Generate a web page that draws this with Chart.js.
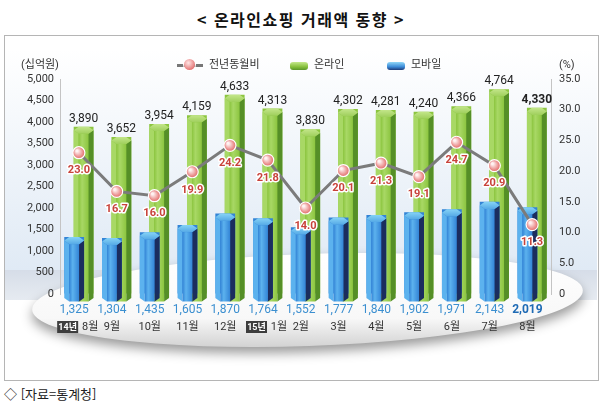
<!DOCTYPE html>
<html lang="ko">
<head>
<meta charset="utf-8">
<script src="https://cdn.jsdelivr.net/npm/chart.js@4.4.1/dist/chart.umd.min.js"></script>
<style>
  html, body { margin: 0; padding: 0; background: #fff; }
  body { width: 602px; height: 404px; position: relative; overflow: hidden;
         font-family: Roboto, "Noto Sans CJK KR", sans-serif; color: #333; }
  .title { position: absolute; left: 0; top: 7px; width: 602px; text-align: center;
           font: bold 16px "Noto Sans CJK KR", sans-serif; letter-spacing: 1.5px; color: #111; }
  .frame { position: absolute; left: 4px; top: 35px; width: 595px; height: 346px;
           box-sizing: border-box; border: 1px solid #b5b5b5; }
  .wrap { position: absolute; left: 0; top: 35px; width: 602px; height: 346px; }
  .lbl { position: absolute; font-size: 11px; color: #333; line-height: 12px; }
  .ico-line { position: absolute; left: 177px; top: 64px; width: 26px; height: 3px; background: #777; }
  .ico-line::after { content: ''; position: absolute; left: 7px; top: -5px; width: 11px; height: 11px;
           border-radius: 50%; background: radial-gradient(circle at 40% 35%, #ffe6e6, #e26a6a 80%);
           box-shadow: 0 0 0 1px #fff; }
  .ico-bar { position: absolute; width: 18px; height: 8px; border-radius: 3px; }
  .source { position: absolute; left: 4px; top: 384px; font: 13px "Noto Sans CJK KR", sans-serif; color: #222; }
</style>
</head>
<body>
<div class="title">&lt; 온라인쇼핑 거래액 동향 &gt;</div>
<div class="frame"></div>
<div class="wrap"><canvas id="chart"></canvas></div>
<div class="lbl" style="left:21px;top:59px;">(십억원)</div>
<div class="ico-line"></div>
<div class="lbl" style="left:209px;top:59px;">전년동월비</div>
<div class="ico-bar" style="left:290px;top:62px;background:linear-gradient(#c5e88c,#86c03c 60%,#5a962a);"></div>
<div class="lbl" style="left:314px;top:59px;">온라인</div>
<div class="ico-bar" style="left:387px;top:62px;background:linear-gradient(#8fd6f7,#3a8ad8 60%,#1d3a78);"></div>
<div class="lbl" style="left:411px;top:59px;">모바일</div>
<div class="lbl" style="left:559px;top:59px;">(%)</div>
<div class="source">◇ [자료=통계청]</div>
<script>
const monthLabels = ['8월', '9월', '10월', '11월', '12월', '1월', '2월', '3월', '4월', '5월', '6월', '7월', '8월'];
const yearTags = ['14년', '', '', '', '', '15년', '', '', '', '', '', '', ''];
const onlineValues = [3890, 3652, 3954, 4159, 4633, 4313, 3830, 4302, 4281, 4240, 4366, 4764, 4330];
const mobileValues = [1325, 1304, 1435, 1605, 1870, 1764, 1552, 1777, 1840, 1902, 1971, 2143, 2019];
const yoyValues = [23.0, 16.7, 16.0, 19.9, 24.2, 21.8, 14.0, 20.1, 21.3, 19.1, 24.7, 20.9, 11.3];
const leftMax = 5000;
const leftStep = 500;
const rightMax = 35;
const rightStep = 5;

const FONT = 'Roboto, "Noto Sans CJK KR", sans-serif';
const fmt = (v) => v.toLocaleString('en-US');

const palettes = {
  green: { left: '#a8d865', mid: '#8cc540', right: '#558f27', cap: '#c3e68a', capEdge: '#9fcf5c' },
  blue: { left: '#5cb2ee', mid: '#3384d6', right: '#1b2d5e', cap: '#86d3f6', capEdge: '#55a9e6' }
};

// hexagonal column drawn on the bar element's own geometry
function drawColumn(ctx, el, pal) {
  const x = el.x, top = el.y, base = el.base, w = el.width;
  const capH = Math.max(6, w * 0.36);
  const l = x - w / 2, r = x + w / 2, ql = x - w / 4, qr = x + w / 4;
  const bottom = base + 8;
  ctx.save();
  // left face
  ctx.beginPath();
  ctx.moveTo(l, top + capH / 2); ctx.lineTo(ql, top + capH);
  ctx.lineTo(ql, bottom); ctx.lineTo(l, bottom - capH / 2); ctx.closePath();
  ctx.fillStyle = pal.left; ctx.fill();
  // front face
  const g = ctx.createLinearGradient(ql, 0, qr, 0);
  g.addColorStop(0, pal.mid); g.addColorStop(0.35, pal.left); g.addColorStop(1, pal.mid);
  ctx.beginPath();
  ctx.moveTo(ql, top + capH); ctx.lineTo(qr, top + capH);
  ctx.lineTo(qr, bottom); ctx.lineTo(ql, bottom); ctx.closePath();
  ctx.fillStyle = g; ctx.fill();
  // right face
  ctx.beginPath();
  ctx.moveTo(qr, top + capH); ctx.lineTo(r, top + capH / 2);
  ctx.lineTo(r, bottom - capH / 2); ctx.lineTo(qr, bottom); ctx.closePath();
  ctx.fillStyle = pal.right; ctx.fill();
  // cap
  ctx.beginPath();
  ctx.moveTo(l, top + capH / 2); ctx.lineTo(ql, top); ctx.lineTo(qr, top);
  ctx.lineTo(r, top + capH / 2); ctx.lineTo(qr, top + capH); ctx.lineTo(ql, top + capH);
  ctx.closePath();
  const cg = ctx.createLinearGradient(0, top, 0, top + capH);
  cg.addColorStop(0, pal.cap); cg.addColorStop(1, pal.capEdge);
  ctx.fillStyle = cg; ctx.fill();
  ctx.restore();
}

const scenePlugin = {
  id: 'scene',
  beforeDraw(chart) {
    const { ctx, chartArea: a } = chart;
    ctx.save();
    // pale blue backdrop
    const bg = ctx.createLinearGradient(0, a.top - 30, 0, a.bottom - 24);
    bg.addColorStop(0, '#ffffff'); bg.addColorStop(1, '#e0eaf5');
    ctx.fillStyle = bg;
    ctx.fillRect(5, 1, chart.width - 10, a.bottom - 25);
    const fg = ctx.createLinearGradient(0, a.bottom - 24, 0, a.bottom + 6);
    fg.addColorStop(0, '#d6dde8'); fg.addColorStop(1, '#e6ebf1');
    ctx.fillStyle = fg;
    ctx.fillRect(5, a.bottom - 24, chart.width - 10, 30);
    // platform
    const cx = (a.left + a.right) / 2 + 2, cy = a.bottom + 6, ry = 46;
    ctx.save();
    ctx.shadowColor = 'rgba(0,0,0,0.4)';
    ctx.shadowBlur = 12;
    ctx.shadowOffsetY = 6;
    ctx.beginPath();
    ctx.ellipse(cx, cy, (a.right - a.left) / 2 + 30, ry, -0.035, 0, Math.PI * 2);
    const pg = ctx.createLinearGradient(0, cy - ry, 0, cy + ry);
    pg.addColorStop(0, '#ffffff'); pg.addColorStop(0.7, '#f8f8f8'); pg.addColorStop(1, '#d4d4d4');
    ctx.fillStyle = pg;
    ctx.fill();
    ctx.restore();
    ctx.restore();
  },
  afterDatasetDraw(chart, args) {
    const { ctx } = chart;
    const ds = chart.data.datasets[args.index];
    if (ds.type === 'line') {
      args.meta.data.forEach((pt) => {
        ctx.save();
        const rg = ctx.createRadialGradient(pt.x - 2, pt.y - 2, 1, pt.x, pt.y, 6);
        rg.addColorStop(0, '#fff2f2'); rg.addColorStop(1, '#e26866');
        ctx.beginPath();
        ctx.arc(pt.x, pt.y, 6, 0, Math.PI * 2);
        ctx.fillStyle = rg; ctx.fill();
        ctx.lineWidth = 1.2; ctx.strokeStyle = '#fff'; ctx.stroke();
        ctx.restore();
      });
      return;
    }
    const pal = palettes[ds.palette];
    args.meta.data.forEach((el) => drawColumn(ctx, el, pal));
  },
  afterDatasetsDraw(chart) {
    const { ctx, chartArea: a } = chart;
    const last = onlineValues.length - 1;
    ctx.save();
    ctx.textAlign = 'center';
    // online totals above green columns
    chart.getDatasetMeta(2).data.forEach((el, i) => {
      ctx.font = (i === last ? 'bold ' : '') + '12px ' + FONT;
      ctx.fillStyle = '#222';
      ctx.textBaseline = 'alphabetic';
      ctx.fillText(fmt(onlineValues[i]), el.x, el.y - 5);
    });
    // mobile values and month labels under blue columns
    chart.getDatasetMeta(1).data.forEach((el, i) => {
      ctx.textBaseline = 'middle';
      ctx.textAlign = 'center';
      ctx.font = (i === last ? 'bold ' : '') + '12px ' + FONT;
      ctx.fillStyle = i === last ? '#1f6bb5' : '#3b8fd0';
      ctx.fillText(fmt(mobileValues[i]), el.x, a.bottom + 16);
      ctx.font = '11px ' + FONT;
      ctx.fillStyle = '#333';
      if (yearTags[i]) {
        ctx.fillText(monthLabels[i], el.x + 16, a.bottom + 33);
        ctx.fillStyle = '#3d3d3d';
        ctx.fillRect(el.x - 17, a.bottom + 27, 21, 12);
        ctx.fillStyle = '#fff';
        ctx.font = 'bold 9px ' + FONT;
        ctx.fillText(yearTags[i], el.x - 6.5, a.bottom + 33.5);
      } else {
        ctx.fillText(monthLabels[i], el.x, a.bottom + 33);
      }
    });
    // year-on-year labels under the points
    chart.getDatasetMeta(0).data.forEach((pt, i) => {
      ctx.font = 'bold 11px ' + FONT;
      ctx.textBaseline = 'middle';
      ctx.lineWidth = 3;
      ctx.strokeStyle = '#fff';
      ctx.lineJoin = 'round';
      const txt = yoyValues[i].toFixed(1);
      ctx.strokeText(txt, pt.x, pt.y + 18);
      ctx.fillStyle = '#c8423a';
      ctx.fillText(txt, pt.x, pt.y + 18);
    });
    ctx.restore();
  }
};

new Chart(document.getElementById('chart'), {
  data: {
    labels: monthLabels,
    datasets: [
      {
        type: 'line',
        label: '전년동월비',
        data: yoyValues,
        yAxisID: 'yr',
        order: 0,
        borderColor: '#7b7b7b',
        borderWidth: 3,
        pointRadius: 0,
        tension: 0
      },
      {
        type: 'bar',
        label: '모바일',
        data: mobileValues,
        yAxisID: 'y',
        order: 1,
        palette: 'blue',
        backgroundColor: '#3384d6',
        categoryPercentage: 0.5,
        barPercentage: 2.1
      },
      {
        type: 'bar',
        label: '온라인',
        data: onlineValues,
        yAxisID: 'y',
        order: 2,
        palette: 'green',
        backgroundColor: '#8cc540',
        categoryPercentage: 0.5,
        barPercentage: 2.1
      }
    ]
  },
  options: {
    responsive: true,
    maintainAspectRatio: false,
    animation: false,
    layout: { padding: { top: 44, bottom: 87, left: 0, right: 0 } },
    plugins: {
      legend: { display: false },
      tooltip: { enabled: false }
    },
    scales: {
      x: { display: false },
      y: {
        position: 'left',
        min: 0,
        max: leftMax,
        ticks: { stepSize: leftStep, color: '#333', padding: 6, font: { family: FONT, size: 11 },
                 callback: (v) => fmt(v) },
        grid: { display: true, drawOnChartArea: false, drawTicks: false },
        border: { display: true, color: '#c4c4c4' },
        afterFit: (s) => { s.width = 60; }
      },
      yr: {
        position: 'right',
        min: 0,
        max: rightMax,
        ticks: { stepSize: rightStep, color: '#333', padding: 8, font: { family: FONT, size: 11 },
                 callback: (v) => (v === 0 ? '0' : v.toFixed(1)) },
        grid: { display: true, drawOnChartArea: false, drawTicks: false },
        border: { display: true, color: '#c4c4c4' },
        afterFit: (s) => { s.width = 51; }
      }
    }
  },
  plugins: [scenePlugin]
});
</script>
</body>
</html>
